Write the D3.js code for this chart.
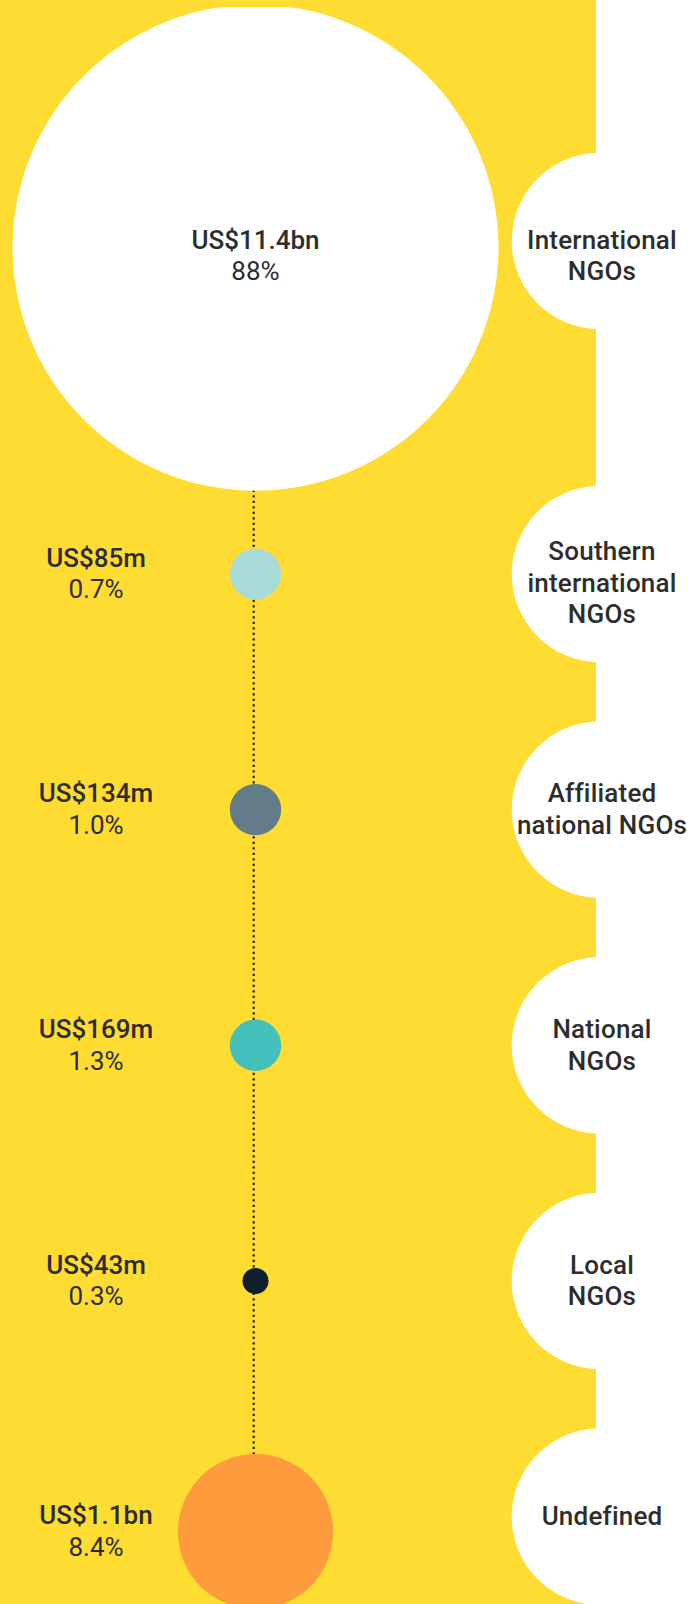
<!DOCTYPE html>
<html>
<head>
<meta charset="utf-8">
<script src="https://cdn.jsdelivr.net/npm/d3@7"></script>
<style>
  body { margin: 0; background: #fff; }
  svg { display: block; }
  text { font-family: Roboto, "Noto Sans", sans-serif; fill: #2d2d2d; }
</style>
</head>
<body>
<svg></svg>
<script>
// recipient groups, top to bottom
let categories = ['International NGOs', 'Southern international NGOs', 'Affiliated national NGOs', 'National NGOs', 'Local NGOs', 'Undefined']
// how each group name is broken in its white tab
let labelLines = [['International', 'NGOs'], ['Southern', 'international', 'NGOs'], ['Affiliated', 'national NGOs'], ['National', 'NGOs'], ['Local', 'NGOs'], ['Undefined']]
// funding received, US$ millions
let amounts = [11400, 85, 134, 169, 43, 1100]
let amountLabels = ['US$11.4bn', 'US$85m', 'US$134m', 'US$169m', 'US$43m', 'US$1.1bn']
let shareLabels = ['88%', '0.7%', '1.0%', '1.3%', '0.3%', '8.4%']

let width = 689
let height = 1604
// yellow panel ends here, the white strip starts
let stripX = 596
// x of the dotted spine the circles sit on
let spineX = 255.5
let labelX = 96
let tabX = 600
let tabR = 88.3
let lineH = 31.5

let svg = d3.select('svg')

let colorScale = d3.scaleOrdinal()
                   .domain(categories)
                   .range(['#ffffff', '#a9dcd9', '#647c8a', '#43c0bc', '#0e202b', '#fe9b3d'])

// the designer did not keep the small dots to area, so the scale has a few breakpoints
let rScale = d3.scaleSqrt()
               .domain([43, 85, 169, 1100, 11400])
               .range([13, 25.6, 25.7, 77.6, 243])

// rows 2..6 sit on an even grid, the first row is pushed up by the big circle
let yScale = d3.scalePoint()
               .domain(categories.slice(1))
               .range([574, 1516.6])

let rows = categories.map((c, i) => {
    let r = rScale(amounts[i])
    let tabY = i === 0 ? 241 : yScale(c)
    let cy = i === 0 ? 4.7 + r : (i === categories.length - 1 ? yScale(c) + 15 : yScale(c))
    return {
        name: c,
        lines: labelLines[i],
        amount: amountLabels[i],
        share: shareLabels[i],
        r: r,
        cy: cy,
        tabY: tabY,
        // vertical centre for the text blocks
        leftY: i === 0 ? 256 : cy,
        rightY: i === 0 ? 256 : tabY + (labelLines[i].length > 2 ? 9 : 0)
    }
})

let drawCanvas = () => {
    svg.attr('width', width)
       .attr('height', height)

    svg.append('rect')
       .attr('x', 0)
       .attr('y', 0)
       .attr('width', stripX)
       .attr('height', height)
       .attr('fill', '#fedc32')

    svg.append('clipPath')
       .attr('id', 'frame')
       .append('rect')
       .attr('x', 0)
       .attr('y', 7.3)
       .attr('width', width)
       .attr('height', height)
}

// baseline of line i in a block of n lines centred on y
let baseline = (y, i, n) => y + 8.5 + (i - (n - 1) / 2) * lineH

let drawTabs = () => {
    let tabs = svg.append('g')
                  .selectAll('g')
                  .data(rows)
                  .enter()
                  .append('g')

    tabs.append('circle')
        .attr('cx', tabX)
        .attr('cy', d => d.tabY)
        .attr('r', tabR)
        .attr('fill', '#ffffff')

    tabs.each(function (d) {
        d3.select(this).selectAll('text')
          .data(d.lines)
          .enter()
          .append('text')
          .attr('x', tabX + 2)
          .attr('y', (line, i) => baseline(d.rightY, i, d.lines.length))
          .attr('text-anchor', 'middle')
          .attr('font-size', 26)
          .attr('font-weight', 500)
          .attr('letter-spacing', 0.2)
          .text(line => line)
    })
}

let drawBubbles = () => {
    let g = svg.append('g')
               .attr('clip-path', 'url(#frame)')

    // dotted spine from the first to the last circle
    g.append('line')
     .attr('x1', spineX - 1.8)
     .attr('x2', spineX - 1.8)
     .attr('y1', rows[0].cy)
     .attr('y2', rows[rows.length - 1].cy)
     .attr('stroke', '#222')
     .attr('stroke-width', 2.2)
     .attr('stroke-dasharray', '2.3 3.2')

    g.selectAll('circle.bubble')
     .data(rows)
     .enter()
     .append('circle')
     .attr('class', 'bubble')
     .attr('cx', spineX)
     .attr('cy', d => d.cy)
     .attr('r', d => d.r)
     .attr('fill', d => colorScale(d.name))
}

let drawValues = () => {
    let labels = svg.append('g')
                    .selectAll('g')
                    .data(rows)
                    .enter()
                    .append('g')

    // the biggest value is written inside its circle, the rest to the left
    labels.append('text')
          .attr('x', (d, i) => i === 0 ? spineX : labelX)
          .attr('y', d => baseline(d.leftY, 0, 2))
          .attr('text-anchor', 'middle')
          .attr('font-size', 26)
          .attr('font-weight', 500)
          .text(d => d.amount)

    labels.append('text')
          .attr('x', (d, i) => i === 0 ? spineX : labelX)
          .attr('y', d => baseline(d.leftY, 1, 2))
          .attr('text-anchor', 'middle')
          .attr('font-size', 26)
          .attr('font-weight', 400)
          .text(d => d.share)
}

drawCanvas()
drawTabs()
drawBubbles()
drawValues()
</script>
</body>
</html>
